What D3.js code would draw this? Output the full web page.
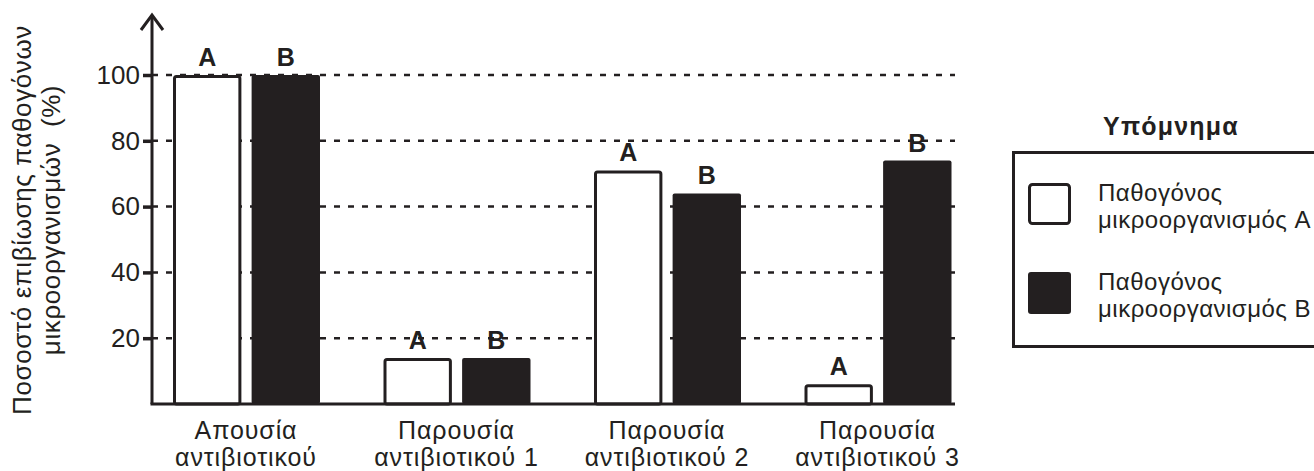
<!DOCTYPE html>
<html>
<head>
<meta charset="utf-8">
<script src="https://cdn.jsdelivr.net/npm/d3@7"></script>
<style>
  body { margin: 0; background: #fff; }
  svg { display: block; font-family: "Liberation Sans", Arial, sans-serif; }
</style>
</head>
<body>
<svg id="chart" width="1314" height="471"></svg>
<script>
// data
const categories = [
  ["Απουσία", "αντιβιοτικού"],
  ["Παρουσία", "αντιβιοτικού 1"],
  ["Παρουσία", "αντιβιοτικού 2"],
  ["Παρουσία", "αντιβιοτικού 3"]
]
const seriesKeys = ["A", "B"]
const valuesA = [100, 14, 71, 6]
const valuesB = [100, 14, 64, 74]
const yTicks = [20, 40, 60, 80, 100]
const legendLabels = [["Παθογόνος", "μικροοργανισμός A"], ["Παθογόνος", "μικροοργανισμός B"]]
const yTitle = ["Ποσοστό επιβίωσης παθογόνων", "μικροοργανισμών  (%)"]

const ink = "#231f20"
const svg = d3.select("#chart")

const axisX = 152, axisEnd = 955

const x0 = d3.scaleBand()
  .domain(d3.range(categories.length))
  .range([141, 983])
const x1 = d3.scaleBand()
  .domain(seriesKeys)
  .range([32, 179])
  .paddingInner(0.13)
const y = d3.scaleLinear()
  .domain([0, 100])
  .range([404, 75])

// dashed grid lines
svg.append("g").selectAll("line")
  .data(yTicks)
  .enter().append("line")
  .attr("x1", axisX).attr("x2", axisEnd)
  .attr("y1", d => y(d)).attr("y2", d => y(d))
  .attr("stroke", ink)
  .attr("stroke-width", 2.5)
  .attr("stroke-dasharray", "6,8")

// bars
const rows = categories.map((c, i) => ({ i: i, A: valuesA[i], B: valuesB[i] }))
const groups = svg.append("g").selectAll("g")
  .data(rows)
  .enter().append("g")
  .attr("transform", d => "translate(" + x0(d.i) + ",0)")

groups.append("rect")
  .attr("x", x1("A") + 1.5)
  .attr("y", d => y(d.A) + 1.5)
  .attr("width", x1.bandwidth() - 3)
  .attr("height", d => y(0) - y(d.A) - 1.5)
  .attr("rx", 2)
  .attr("fill", "#fff")
  .attr("stroke", ink)
  .attr("stroke-width", 3)

groups.append("rect")
  .attr("x", x1("B"))
  .attr("y", d => y(d.B))
  .attr("width", x1.bandwidth())
  .attr("height", d => y(0) - y(d.B))
  .attr("rx", 2)
  .attr("fill", ink)

// A / B labels on top of the bars
seriesKeys.forEach(k => {
  groups.append("text")
    .attr("x", x1(k) + x1.bandwidth() / 2)
    .attr("y", d => y(d[k]) - 9)
    .attr("text-anchor", "middle")
    .attr("font-weight", "bold")
    .attr("font-size", 25)
    .attr("fill", ink)
    .text(k)
})

// category labels, one text per line
const catG = svg.append("g").selectAll("g")
  .data(categories)
  .enter().append("g")
  .attr("transform", (d, i) => "translate(" + (x0(i) + 105) + ",439)")
;[0, 1].forEach(line => {
  catG.append("text")
    .attr("y", line * 27)
    .attr("text-anchor", "middle")
    .attr("font-size", 25)
    .attr("letter-spacing", 0.9)
    .attr("fill", ink)
    .text(d => d[line])
})

// axes
svg.append("line")
  .attr("x1", axisX - 1.5).attr("x2", axisEnd)
  .attr("y1", y(0)).attr("y2", y(0))
  .attr("stroke", ink).attr("stroke-width", 3)
svg.append("line")
  .attr("x1", axisX).attr("x2", axisX)
  .attr("y1", y(0)).attr("y2", 15)
  .attr("stroke", ink).attr("stroke-width", 3)
svg.append("path")
  .attr("d", d3.line()([[axisX - 11, 30], [axisX, 15], [axisX + 11, 30]]))
  .attr("fill", "none")
  .attr("stroke", ink).attr("stroke-width", 3)

const yAxis = svg.append("g")
  .attr("transform", "translate(" + axisX + ",0)")
  .call(d3.axisLeft(y).tickValues(yTicks).tickSize(9).tickPadding(3))
yAxis.select(".domain").remove()
yAxis.selectAll(".tick line").attr("stroke", ink).attr("stroke-width", 3.5)
yAxis.selectAll(".tick text")
  .attr("font-size", 26)
  .attr("font-family", "Liberation Sans, Arial, sans-serif")
  .attr("fill", ink)

// y title
yTitle.forEach((t, i) => {
  svg.append("text")
    .attr("transform", "translate(" + (31 + i * 29) + ",220) rotate(-90)")
    .attr("text-anchor", "middle")
    .attr("font-size", 26)
    .attr("letter-spacing", 0.6)
    .attr("fill", ink)
    .style("white-space", "pre")
    .text(t)
})

// legend
svg.append("text")
  .attr("x", 1171).attr("y", 135)
  .attr("text-anchor", "middle")
  .attr("font-weight", "bold")
  .attr("font-size", 25)
  .attr("letter-spacing", 1.2)
  .attr("fill", ink)
  .text("Υπόμνημα")

svg.append("rect")
  .attr("x", 1013.5).attr("y", 152.5)
  .attr("width", 320).attr("height", 194)
  .attr("fill", "none")
  .attr("stroke", ink).attr("stroke-width", 3)

const leg = svg.append("g").selectAll("g")
  .data(seriesKeys)
  .enter().append("g")
  .attr("transform", (d, i) => "translate(0," + (i * 89) + ")")

leg.append("rect")
  .attr("x", d => d === "A" ? 1029.5 : 1028)
  .attr("y", d => d === "A" ? 184.5 : 183)
  .attr("width", d => d === "A" ? 40 : 43)
  .attr("height", d => d === "A" ? 39 : 42)
  .attr("rx", 3)
  .attr("fill", d => d === "A" ? "#fff" : ink)
  .attr("stroke", d => d === "A" ? ink : "none")
  .attr("stroke-width", 3)

;[0, 1].forEach(line => {
  leg.append("text")
    .attr("x", 1098)
    .attr("y", 201 + line * 27)
    .attr("font-size", 24)
    .attr("letter-spacing", 0.5)
    .attr("fill", ink)
    .text((d, i) => legendLabels[i][line])
})
</script>
</body>
</html>
